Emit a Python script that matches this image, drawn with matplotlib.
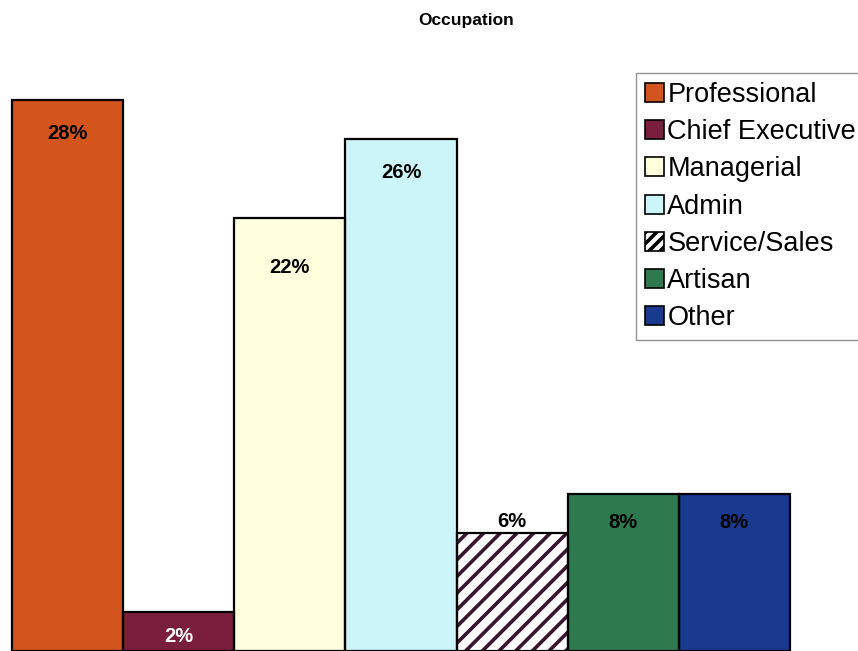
import matplotlib
matplotlib.use("Agg")
import matplotlib.pyplot as plt
from matplotlib.patches import Patch

categories = ["Professional", "Chief Executive", "Managerial", "Admin",
              "Service/Sales", "Artisan", "Other"]
values = [28, 2, 22, 26, 6, 8, 8]
labels = ["28%", "2%", "22%", "26%", "6%", "8%", "8%"]

colors = ["#D4541E", "#7A1E3E", "#FFFFDD", "#CCF5FA", "#FFFFFF", "#2E7A4E", "#1A3A8F"]
hatches = [None, None, None, None, "//", None, None]
label_colors = ["black", "white", "black", "black", "black", "black", "black"]
# label offsets from bar top, in data units (negative = inside bar)
label_offsets = [-1.7, -1.25, -2.5, -1.7, 0.6, -1.45, -1.45]

plt.rcParams["font.family"] = ["Liberation Sans", "DejaVu Sans"]
plt.rcParams["hatch.linewidth"] = 2.6
plt.rcParams["hatch.color"] = "#3A1530"

fig = plt.figure(figsize=(8.58, 6.51), dpi=100)
W, H = 858, 651
ax = fig.add_axes([12 / W, 0, 778 / W, 591 / H])
ax.set_xlim(-0.5, 6.5)
ax.set_ylim(0, 30.03)
ax.axis("off")

for i, (v, c, h) in enumerate(zip(values, colors, hatches)):
    if h:
        ax.bar(i, v, width=1.0, color=c, hatch=h, edgecolor="#3A1530",
               linewidth=0, zorder=2)
    else:
        ax.bar(i, v, width=1.0, color=c, linewidth=0, zorder=2)
    ax.bar(i, v, width=1.0, fill=False, edgecolor="black", linewidth=1.6,
           zorder=3, clip_on=False)
    ax.text(i, v + label_offsets[i], labels[i], ha="center", va="center",
            fontsize=14.5, fontweight="bold", color=label_colors[i], zorder=4)

fig.text(466 / W, 1 - 20 / H, "Occupation", ha="center", va="center",
         fontsize=12.5, fontweight="bold")

handles = []
for c, h in zip(colors, hatches):
    if h:
        handles.append(Patch(facecolor=c, edgecolor="black", hatch="///", linewidth=1.2))
    else:
        handles.append(Patch(facecolor=c, edgecolor="black", linewidth=1.2))
leg = fig.legend(handles, categories, loc="upper left",
                 bbox_to_anchor=(636 / W, 1 - 73 / H), fontsize=19.5,
                 frameon=True, fancybox=False, edgecolor="#777777",
                 handlelength=0.7, handleheight=0.7, handletextpad=0.12,
                 labelspacing=0.41, borderpad=0.34, borderaxespad=0)
leg.get_frame().set_linewidth(1.0)

fig.savefig("out.png", dpi=100, facecolor="white")
